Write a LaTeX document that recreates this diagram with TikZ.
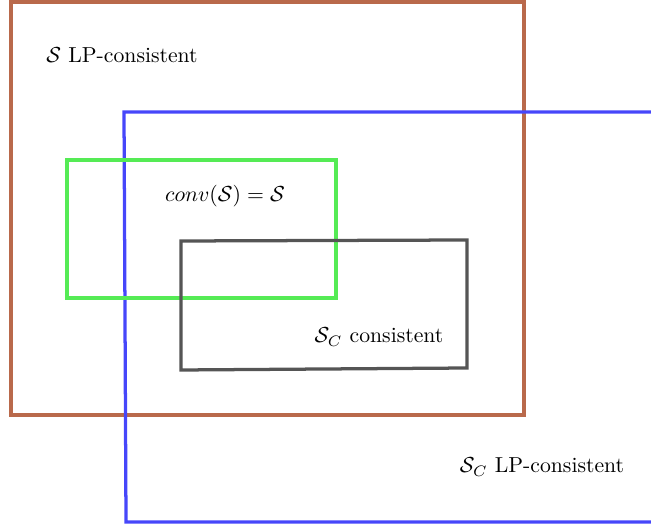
\documentclass[tikz,border=0pt]{standalone}
\usepackage{amsmath}
\definecolor{brownline}{RGB}{185,105,75}
\definecolor{blueline}{RGB}{70,70,250}
\definecolor{greenline}{RGB}{85,235,85}
\definecolor{grayline}{RGB}{85,85,85}
\tikzset{
  setbox/.style={line width=1.5pt, line join=miter},
  lbl/.style={inner sep=0pt, anchor=center}
}
\begin{document}
\begin{tikzpicture}[x=0.4608pt, y=-0.4608pt]
\useasboundingbox (0,0) rectangle (651,527);
% brown
\draw[setbox, brownline] (11,2) rectangle (524,415);
% blue (open on the right)
\draw[setbox, blueline] (651,112) -- (124,112) -- (126,522) -- (651,522);
% green
\draw[setbox, greenline] (67,160) rectangle (336,298);
% dark gray
\draw[setbox, grayline] (181,241) -- (467,240) -- (467,368) -- (181,370) -- cycle;
% labels
\node[lbl] (l1) at (122,55) {$\mathcal{S}$ LP-consistent};
\node[lbl] (l2) at (225,196) {$conv(\mathcal{S}) = \mathcal{S}$};
\node[lbl] (l3) at (379,337) {$\mathcal{S}_C$ consistent};
\node[lbl] (l4) at (542,467) {$\mathcal{S}_C$ LP-consistent};
\end{tikzpicture}
\end{document}
